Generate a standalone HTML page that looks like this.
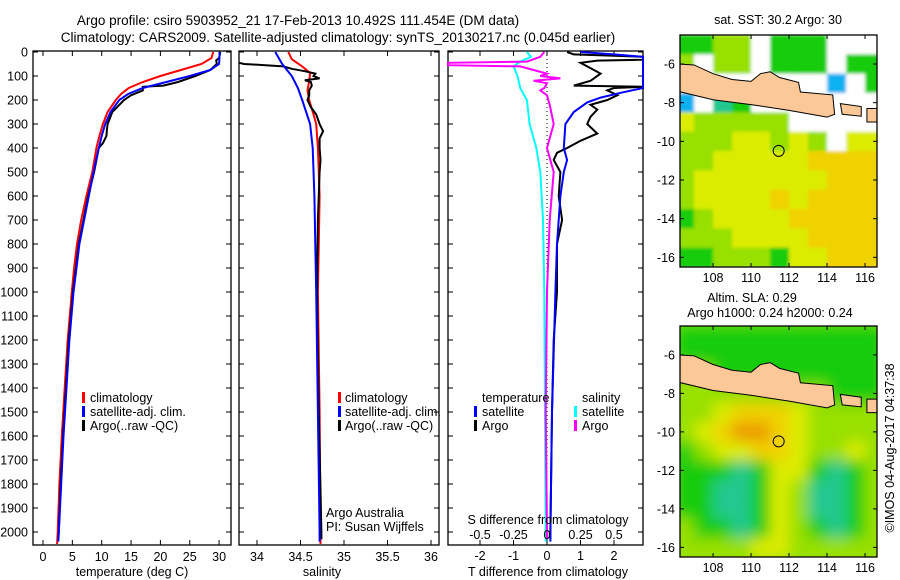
<!DOCTYPE html>
<html><head><meta charset="utf-8">
<style>
html,body{margin:0;padding:0;background:#fff;}
svg{display:block;font-family:"Liberation Sans",sans-serif;font-size:12.5px;}
</style></head>
<body>
<svg id="fig" width="900" height="580" viewBox="0 0 900 580" xmlns="http://www.w3.org/2000/svg">
<text x="298" y="25" text-anchor="middle" font-size="13.5">Argo profile: csiro 5903952_21 17-Feb-2013 10.492S 111.454E (DM data)</text>
<text x="338" y="42" text-anchor="middle" font-size="13.5">Climatology: CARS2009. Satellite-adjusted climatology: synTS_20130217.nc (0.045d earlier)</text>
<g id="g"></g>
</svg>
<script>
// ---------- data ----------
const tempClimDepth=[0,25,50,75,100,125,150,175,200,250,300,350,400,500,600,700,800,900,1000,1200,1400,1600,1800,2000,2050];
const tempClim=[29,28.7,27,23.5,20,17,14.6,13.3,12.4,11,10.2,9.6,9.1,8.4,7.4,6.5,5.8,5.3,4.9,4.2,3.7,3.2,2.8,2.5,2.4];
const tempSatDepth=[0,50,75,100,125,150,175,200,250,300,350,400,500,600,700,800,900,1000,1200,1400,1600,1800,2000,2040];
const tempSat=[30.1,30,28.5,25,21,17,14.5,13,11.5,10.6,10,9.5,8.6,7.8,7,6.2,5.7,5.2,4.5,4,3.5,3.1,2.7,2.6];
const tempArgoDepth=[0,25,35,50,75,100,125,140,145,160,180,200,250,300,320,350,380,400,500,600,700,800,900,1000,1200,1400,1600,1800,2000,2030];
const tempArgo=[30.2,30,29.5,29.6,28.5,26,23,20.5,17,17,15,13.8,11.8,11,10.9,10.8,10.2,9.5,8.7,7.7,6.9,6.1,5.6,5.1,4.4,3.9,3.4,3.0,2.7,2.6];

const salClimDepth=[0,30,60,88,120,160,200,260,300,400,600,1000,1500,2050];
const salClim=[34.36,34.4,34.52,34.61,34.6,34.58,34.6,34.65,34.68,34.7,34.72,34.7,34.72,34.73];
const salSatDepth=[0,50,100,150,200,300,400,600,1000,1500,2000,2040];
const salSat=[34.21,34.29,34.4,34.47,34.52,34.61,34.64,34.66,34.68,34.7,34.72,34.72];
const salArgoDepth=[45,50,55,60,70,80,90,100,110,118,125,140,160,180,200,230,260,300,330,360,400,450,500,700,1000,1500,2000,2030];
const salArgo=[33.7,33.85,34.1,34.3,34.4,34.55,34.67,34.65,34.72,34.55,34.62,34.63,34.6,34.6,34.58,34.62,34.68,34.72,34.76,34.72,34.72,34.73,34.72,34.7,34.69,34.71,34.74,34.74];

const dTSatDepth=[0,10,20,70,150,170,190,210,250,300,400,450,500,600,800,1000,1500,2000,2040];
const dTSat=[1.0,2,3.1,3.1,3.1,2.2,1.6,1.2,0.8,0.55,0.5,0.6,0.5,0.4,0.3,0.25,0.15,0.1,0.1];
const dTArgoDepth=[0,10,20,32,36,45,60,90,120,140,145,150,160,180,200,220,240,270,300,340,370,400,420,450,500,600,700,800,1000,1200,1500,2000,2030];
const dTArgo=[0.6,0.8,3.1,3.1,1.5,1.0,1.2,1.6,1.3,0.8,3.1,2.0,1.8,2.1,1.8,1.3,1.5,1.3,1.2,1.5,1.0,0.6,0.3,0.2,0.4,0.35,0.45,0.3,0.3,0.2,0.15,0.1,0.1];
const dSSatDepth=[0,20,40,60,100,150,200,300,400,500,700,1000,2000,2040];
const dSSat=[-0.15,-0.12,-0.2,-0.25,-0.22,-0.2,-0.15,-0.13,-0.08,-0.05,-0.03,-0.02,-0.01,-0.01];
const dSArgoDepth=[0,20,40,45,55,60,75,90,100,110,120,130,150,160,180,220,300,400,500,700,1000,1500,2000,2030];
const dSArgo=[-0.02,-0.05,-0.15,-0.74,-0.74,-0.2,-0.1,0.0,-0.05,0.1,-0.1,0.0,-0.02,-0.05,0.0,0.02,0.05,0.0,0.05,0.02,0.0,-0.01,0.0,0.0];

const depthTicks=[0,100,200,300,400,500,600,700,800,900,1000,1100,1200,1300,1400,1500,1600,1700,1800,1900,2000];
const tempTicks=[0,5,10,15,20,25,30];
const salTicks=[34,34.5,35,35.5,36];
const salTickLabels=["34","34.5","35","35.5","36"];
const dTTicks=[-2,-1,0,1,2];
const dSTicks=[-0.5,-0.25,0,0.25,0.5];
const dSTickLabels=["-0.5","-0.25","0","0.25","0.5"];
const latTicks=[-6,-8,-10,-12,-14,-16];
const lonTicks=[108,110,112,114,116];

// map cells: rows lat -5..-16 (1 deg), cols centred lon 106.5..116.5
const sstRows=["GGLLWGGGWWW","LWLLWGGGWGG","WWWWWWWWBWG","BWTGWWWWWWW","YLLLLLWWWWW","LLLYYLYLWYY","LLYYYYYOOOO","LYYYYYYYOOO","LYYYYOYOOOO","GLYYYYOOOOO","LLLYYYYOOOO","GGLLLGYYOOO"];
const slaRows=["GGGGGGGGGGG","GGGGGGGGGGG","LLGGGGGGGGG","LLLLLLLLGGG","LLYOOOYLLLL","LYOMMOYLLLL","GLYYOOYLLYL","GGGTGYYGTGL","GGTTGYLTTGL","GGTTGYLTTGL","LGGTGYLGTGL","LLLLYYLLLLL"];

// ---------- helpers ----------
const NS="http://www.w3.org/2000/svg";
const G=document.getElementById('g');
function mk(tag,attrs,parent){const e=document.createElementNS(NS,tag);for(const k in attrs)e.setAttribute(k,attrs[k]);(parent||G).appendChild(e);return e;}
const yD=d=>52+d*0.24;

function panel(name,x0,x1,y0,y1,xs,xticks,xlabels,ylabelsOn){
  const grp=mk('g',{});
  
  
  const fr=mk('rect',{x:x0,y:y0,width:x1-x0,height:y1-y0,fill:'none',stroke:'#000','stroke-width':1.3},grp);
  
  
  depthTicks.forEach(d=>{
    const y=yD(d);
    mk('line',{x1:x0,x2:x0+5,y1:y,y2:y,stroke:'#000'},grp);
    mk('line',{x1:x1,x2:x1-5,y1:y,y2:y,stroke:'#000'},grp);
    if(ylabelsOn){const t=mk('text',{x:x0-5,y:y+4.5,'text-anchor':'end'},grp);t.textContent=d;
      
      }
  });
  xticks.forEach((v,i)=>{
    const x=xs(v);
    mk('line',{x1:x,x2:x,y1:y1,y2:y1-5,stroke:'#000'},grp);
    mk('line',{x1:x,x2:x,y1:y0,y2:y0+5,stroke:'#000'},grp);
    if(xlabels){const t=mk('text',{x:x,y:y1+16,'text-anchor':'middle'},grp);t.textContent=xlabels[i];
      
      }
  });
  return grp;
}
function line(name,depths,vals,xs,color,w,x0,x1){
  const pts=depths.map((d,i)=>Math.max(x0,Math.min(x1,xs(vals[i]))).toFixed(1)+','+yD(d).toFixed(1)).join(' ');
  const p=mk('polyline',{points:pts,fill:'none',stroke:color,'stroke-width':w});
  
  
}
function txt(name,x,y,s,anchor){const t=mk('text',{x:x,y:y,'text-anchor':anchor||'start'});t.textContent=s;
  
  return t;}
function legbar(name,x,y,color){const r=mk('rect',{x:x,y:y-10,width:3,height:11,fill:color});
  
  }

// ---------- panel 1: temperature ----------
const xT=v=>43+v*5.87;
panel('temperature-panel',33,231,51,545,xT,tempTicks,tempTicks.map(String),true);
line('temp-climatology-line',tempClimDepth,tempClim,xT,'#f00',2,33,231);
line('temp-argo-line',tempArgoDepth,tempArgo,xT,'#000',2,33,231);
line('temp-satellite-line',tempSatDepth,tempSat,xT,'#00f',2,33,231);
txt('temp-x-axis-title',132,576,'temperature (deg C)','middle');
legbar('legend-climatology-swatch',82,402,'#f00');txt('legend-climatology',90,402,'climatology');
legbar('legend-satellite-swatch',82,416,'#00f');txt('legend-satellite',90,416,'satellite-adj. clim.');
legbar('legend-argo-swatch',82,430,'#000');txt('legend-argo',90,430,'Argo(..raw -QC)');

// ---------- panel 2: salinity ----------
const xS=v=>257+(v-34)*87;
panel('salinity-panel',239,439,51,545,xS,salTicks,salTickLabels,false);
line('sal-climatology-line',salClimDepth,salClim,xS,'#f00',2,239,439);
line('sal-argo-line',salArgoDepth,salArgo,xS,'#000',2,239,439);
line('sal-satellite-line',salSatDepth,salSat,xS,'#00f',2,239,439);
txt('sal-x-axis-title',322,576,'salinity','middle');
legbar('sal-legend-climatology-swatch',338,402,'#f00');txt('sal-legend-climatology',345,402,'climatology');
legbar('sal-legend-satellite-swatch',338,416,'#00f');txt('sal-legend-satellite',345,416,'satellite-adj. clim.');
legbar('sal-legend-argo-swatch',338,430,'#000');txt('sal-legend-argo',345,430,'Argo(..raw -QC)');
txt('argo-australia-label',326,517,'Argo Australia');
txt('pi-label',326,531,'PI: Susan Wijffels');

// ---------- panel 3: differences ----------
const xdT=v=>547+v*33.5;
const xdS=v=>547+v*134;
panel('difference-panel',448,643,51,545,xdT,dTTicks,null,false);
const zl=mk('line',{x1:547,x2:547,y1:51,y2:545,stroke:'#000','stroke-dasharray':'1,3'});


line('dS-satellite-line',dSSatDepth,dSSat,xdS,'#0ff',2,448,643);
line('dS-argo-line',dSArgoDepth,dSArgo,xdS,'#f0f',2,448,643);
line('dT-argo-line',dTArgoDepth,dTArgo,xdT,'#000',2,448,643);
line('dT-satellite-line',dTSatDepth,dTSat,xdT,'#00f',2,448,643);
dTTicks.forEach(v=>txt('dT-tick-label',xdT(v),560,String(v),'middle'));
dSTicks.forEach((v,i)=>txt('dS-tick-label',xdS(v),539,dSTickLabels[i],'middle'));
txt('dS-axis-title',548,524,'S difference from climatology','middle');
txt('dT-axis-title',548,576,'T difference from climatology','middle');
txt('diff-legend-temperature',482,402,'temperature');
legbar('diff-legend-sat-t-swatch',474,416,'#00f');txt('diff-legend-sat-t',482,416,'satellite');
legbar('diff-legend-argo-t-swatch',474,430,'#000');txt('diff-legend-argo-t',482,430,'Argo');
txt('diff-legend-salinity',582,402,'salinity');
legbar('diff-legend-sat-s-swatch',574,416,'#0ff');txt('diff-legend-sat-s',582,416,'satellite');
legbar('diff-legend-argo-s-swatch',574,430,'#f0f');txt('diff-legend-argo-s',582,430,'Argo');

// ---------- maps ----------
const colors={W:'#fff',G:'#18cc10',L:'#98e000',Y:'#dcec00',O:'#f0d200',M:'#ec9a00',T:'#20c890',B:'#10b0f0'};
const javaCoast=[[106.1,-6.0],[107,-6.05],[108,-6.5],[109,-6.8],[110,-6.9],[110.5,-6.5],[111,-6.4],[111.5,-6.7],[112.5,-6.95],[112.6,-7.45],[114.3,-7.6],[114.4,-8.6],[114,-8.75],[112,-8.4],[110,-8.1],[108,-7.85],[106.1,-7.4]];
const bali=[[114.7,-8.05],[115.8,-8.2],[115.8,-8.7],[114.8,-8.6]];
const lombok=[[116.1,-8.3],[116.8,-8.3],[116.8,-9.0],[116.1,-9.0]];
function drawMap(name,top,bottom,rows,blur,bg){
  const L=680,R=877,lon0=106.26,lon1=116.63,lat0=-4.5,lat1=-16.5;
  const xl=v=>L+(v-lon0)/(lon1-lon0)*(R-L);
  const yl=v=>top+(v-lat0)/(lat1-lat0)*(bottom-top);
  const grp=mk('g',{});
  
  
  const cid='clip-'+name;
  const cp=mk('clipPath',{id:cid},grp);mk('rect',{x:L,y:top,width:R-L,height:bottom-top},cp);
  const f=mk('filter',{id:'blur-'+name,x:'-10%',y:'-10%',width:'120%',height:'120%'},grp);mk('feGaussianBlur',{stdDeviation:blur},f);
  const cells=mk('g',{'clip-path':'url(#'+cid+')'},grp);
  mk('rect',{x:L,y:top,width:R-L,height:bottom-top,fill:bg},cells);
  const inner=mk('g',{filter:'url(#blur-'+name+')'},cells);
  rows.forEach((row,r)=>{[...row].forEach((c,k)=>{
    const lon=106.5+k, lat=-4.5-r;
    const cell=mk('rect',{x:xl(lon-0.5),y:yl(lat),width:(xl(lon+0.55)-xl(lon-0.5)),height:(yl(lat-1.05)-yl(lat)),fill:colors[c]},inner);
    
    
  });});
  [javaCoast,bali,lombok].forEach(poly=>{
    const p=mk('polygon',{points:poly.map(q=>xl(q[0])+','+yl(q[1])).join(' '),fill:'#fcc898',stroke:'#000','stroke-width':1},cells);
    
    
  });
  const c=mk('circle',{cx:xl(111.454),cy:yl(-10.492),r:5.5,fill:'none',stroke:'#000','stroke-width':1},grp);
  
  
  mk('rect',{x:L,y:top,width:R-L,height:bottom-top,fill:'none',stroke:'#000','stroke-width':1.3},grp);
  latTicks.forEach(v=>{mk('line',{x1:L,x2:L+4,y1:yl(v),y2:yl(v),stroke:'#000'},grp);mk('line',{x1:R,x2:R-4,y1:yl(v),y2:yl(v),stroke:'#000'},grp);
    const t=mk('text',{x:L-5,y:yl(v)+4.5,'text-anchor':'end'},grp);t.textContent=v;
    
    });
  lonTicks.forEach(v=>{mk('line',{x1:xl(v),x2:xl(v),y1:bottom,y2:bottom-4,stroke:'#000'},grp);mk('line',{x1:xl(v),x2:xl(v),y1:top,y2:top+4,stroke:'#000'},grp);
    const t=mk('text',{x:xl(v),y:bottom+15,'text-anchor':'middle'},grp);t.textContent=v;
    
    });
}
drawMap('sst-map',35,267,sstRows,1.5,'#fff');
drawMap('sla-map',326,557,slaRows,7,'#98e000');
txt('sst-map-title',778,24,'sat. SST: 30.2 Argo: 30','middle');
txt('sla-map-title-1',752,302,'Altim. SLA: 0.29','middle');
txt('sla-map-title-2',770,317,'Argo h1000: 0.24 h2000: 0.24','middle');
const cr=txt('imos-timestamp',0,0,'©IMOS 04-Aug-2017 04:37:38','middle');
cr.setAttribute('transform','translate(894,448) rotate(-90)');
</script>
</body></html>
